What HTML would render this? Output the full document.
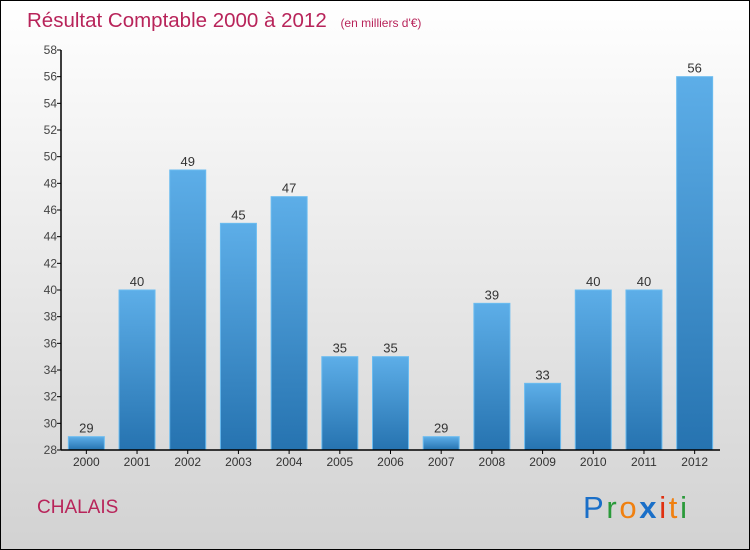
<!DOCTYPE html>
<html><head><meta charset="utf-8"><style>
body{margin:0;}
#c{width:748px;height:548px;border:1px solid #000;background:linear-gradient(#ffffff,#d2d2d2);position:relative;overflow:hidden;font-family:"Liberation Sans",sans-serif;}
</style></head><body>
<div id="c">
<svg width="748" height="548" id="s">
<defs><linearGradient id="g" x1="0" y1="0" x2="0" y2="1"><stop offset="0" stop-color="#5daee8"/><stop offset="1" stop-color="#2673b0"/></linearGradient></defs>
<text x="26" y="26" font-size="20.5" fill="#b8245a" font-family="Liberation Sans,sans-serif">Résultat Comptable 2000 à 2012 <tspan font-size="12" dx="8">(en milliers d'€)</tspan></text>
<text x="36" y="512" font-size="19" fill="#b8245a">CHALAIS</text>
<g font-size="31" font-family="Liberation Sans,sans-serif">
<text x="582" y="517" fill="#1a6fc8" textLength="104" lengthAdjust="spacing">P<tspan fill="#2a9a3a">r</tspan><tspan fill="#f08010">o</tspan><tspan fill="#1a6fc8" font-weight="bold">x</tspan><tspan fill="#e03010">i</tspan><tspan fill="#f08010">t</tspan><tspan fill="#2a9a3a">i</tspan></text></g>
<g id="plot"></g>
</svg></div>
<script>
const years=["2000","2001","2002","2003","2004","2005","2006","2007","2008","2009","2010","2011","2012"];
const values=[29,40,49,45,47,35,35,29,39,33,40,40,56];
const yTicks=[28,30,32,34,36,38,40,42,44,46,48,50,52,54,56,58];
const NS="http://www.w3.org/2000/svg";
const g=document.getElementById('plot');
const x0=60,x1=719,yTop=49,yBot=449,ymin=28,ymax=58;
const band=(x1-x0)/years.length,bw=36;
const y=v=>yBot-(v-ymin)/(ymax-ymin)*(yBot-yTop);
const xc=i=>x0+band*(i+0.5);
function el(t,a){const e=document.createElementNS(NS,t);for(const k in a)e.setAttribute(k,a[k]);g.appendChild(e);return e;}
yTicks.forEach(t=>{
 const l=el('line',{x1:x0-4,x2:x0,y1:y(t),y2:y(t),stroke:'#000'});
 
 
 const tx=el('text',{x:x0-4,y:y(t)+4,'text-anchor':'end','font-size':12,fill:'#444'});
 tx.textContent=t;
 
 
});
values.forEach((v,i)=>{
 const r=el('rect',{x:xc(i)-bw/2,y:y(v),width:bw,height:yBot-y(v),fill:'url(#g)',stroke:'#6bbcf0','stroke-width':1});
 
 
 const t=el('text',{x:xc(i),y:y(v)-4,'text-anchor':'middle','font-size':13,fill:'#333'});
 t.textContent=v;
 
 
 const tk=el('line',{x1:xc(i),x2:xc(i),y1:yBot,y2:yBot+4,stroke:'#000'});
 
 
 const xl=el('text',{x:xc(i),y:yBot+16,'text-anchor':'middle','font-size':12,fill:'#333'});
 xl.textContent=years[i];
 
 
});
const ya=el('line',{x1:x0,x2:x0,y1:yTop,y2:yBot,stroke:'#000','stroke-width':1.5});


const xa=el('line',{x1:x0,x2:x1,y1:yBot,y2:yBot,stroke:'#000','stroke-width':1.5});


</script>
</body></html>
